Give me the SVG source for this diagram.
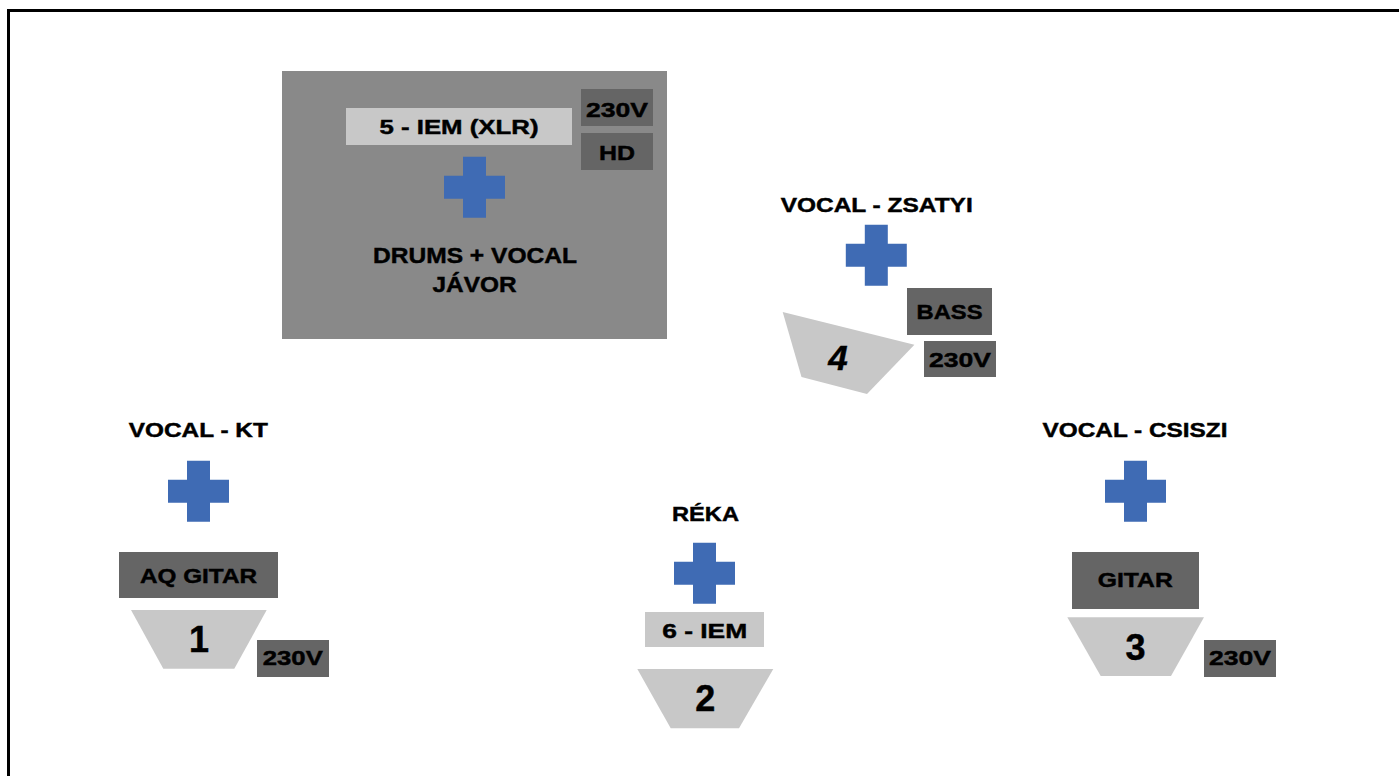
<svg xmlns="http://www.w3.org/2000/svg" xmlns:xlink="http://www.w3.org/1999/xlink" width="1399" height="776" viewBox="0 0 1399 776">
<style>
.t{font-family:"Liberation Sans",Arial,sans-serif;font-weight:bold;fill:#000;text-anchor:middle;stroke:#000;stroke-width:0.45px}
.l{font-size:21px}
.n{font-size:36px}
.dark{fill:#656565}
.light{fill:#c8c8c8}
.riser{fill:#898989}
.x{fill:#3f6bb4}
</style>
<defs>
<path id="cross" d="M-11.5,-30.5H11.5V-11.5H30.5V11.5H11.5V30.5H-11.5V11.5H-30.5V-11.5H-11.5Z"/>
</defs>
<rect x="0" y="0" width="1399" height="776" fill="#fff"/>
<rect x="8.5" y="10.5" width="1400" height="780" fill="none" stroke="#000" stroke-width="3"/>
<g id="connectors"/>
<g id="drums">
<rect class="riser" x="282" y="71" width="385" height="268"/>
<rect class="light" x="346" y="108" width="226" height="37"/>
<text class="t l" x="459" y="134" textLength="159" lengthAdjust="spacingAndGlyphs">5 - IEM (XLR)</text>
<rect class="dark" x="581" y="89" width="72" height="37"/>
<text class="t l" x="617" y="117" textLength="62" lengthAdjust="spacingAndGlyphs">230V</text>
<rect class="dark" x="581" y="133" width="72" height="37"/>
<text class="t l" x="617" y="160" textLength="36" lengthAdjust="spacingAndGlyphs">HD</text>
<use xlink:href="#cross" class="x" x="474.5" y="187.2"/>
<text class="t" style="font-size:22px" x="475" y="263" textLength="204" lengthAdjust="spacingAndGlyphs">DRUMS + VOCAL</text>
<text class="t" style="font-size:22px" x="474.5" y="292" textLength="84" lengthAdjust="spacingAndGlyphs">JÁVOR</text>
</g>
<g id="zsatyi">
<text class="t l" x="876.7" y="212" textLength="192" lengthAdjust="spacingAndGlyphs">VOCAL - ZSATYI</text>
<use xlink:href="#cross" class="x" x="876.3" y="255.3"/>
<rect class="dark" x="907" y="288" width="85" height="47"/>
<text class="t l" x="949.5" y="319" textLength="66" lengthAdjust="spacingAndGlyphs">BASS</text>
<polygon class="light" points="782.7,312 914.4,344.8 867,394 801.5,377"/>
<text class="t n" style="font-style:italic;font-size:35px" x="838" y="370">4</text>
<rect class="dark" x="924" y="341" width="72" height="36"/>
<text class="t l" x="960" y="367" textLength="62" lengthAdjust="spacingAndGlyphs">230V</text>
</g>
<g id="kt">
<text class="t l" x="198.3" y="437.3" textLength="139" lengthAdjust="spacingAndGlyphs">VOCAL - KT</text>
<use xlink:href="#cross" class="x" x="198.5" y="491.3"/>
<rect class="dark" x="119" y="552" width="159" height="46"/>
<text class="t l" x="198.5" y="583.3" textLength="117" lengthAdjust="spacingAndGlyphs">AQ GITAR</text>
<polygon class="light" points="131,610 266.7,610 234.3,668.7 163.3,668.7"/>
<text class="t n" x="199" y="651.7">1</text>
<rect class="dark" x="257" y="640" width="72" height="37"/>
<text class="t l" x="292.8" y="665" textLength="60" lengthAdjust="spacingAndGlyphs">230V</text>
</g>
<g id="reka">
<text class="t l" x="705.5" y="520.7" textLength="67" lengthAdjust="spacingAndGlyphs">RÉKA</text>
<use xlink:href="#cross" class="x" x="704.5" y="573.3"/>
<rect class="light" x="645" y="612" width="119" height="35"/>
<text class="t l" x="704.7" y="637.7" textLength="85" lengthAdjust="spacingAndGlyphs">6 - IEM</text>
<polygon class="light" points="637.3,669 773.3,669 739,728.3 670.7,728.3"/>
<text class="t n" x="705.3" y="710.7">2</text>
</g>
<g id="csiszi">
<text class="t l" x="1135" y="437.3" textLength="185" lengthAdjust="spacingAndGlyphs">VOCAL - CSISZI</text>
<use xlink:href="#cross" class="x" x="1135.5" y="491.3"/>
<rect class="dark" x="1072" y="552" width="127" height="57"/>
<text class="t l" x="1135.3" y="586.7" textLength="75" lengthAdjust="spacingAndGlyphs">GITAR</text>
<polygon class="light" points="1067.3,617.3 1204,617.3 1171,676 1100.7,676"/>
<text class="t n" x="1135.5" y="660">3</text>
<rect class="dark" x="1204" y="640" width="72" height="37"/>
<text class="t l" x="1240" y="665" textLength="62" lengthAdjust="spacingAndGlyphs">230V</text>
</g>
</svg>
